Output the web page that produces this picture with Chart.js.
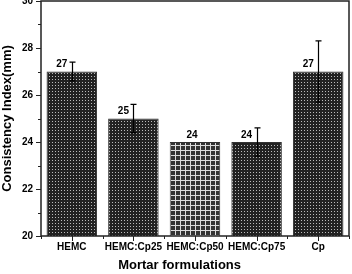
<!DOCTYPE html>
<html>
<head>
<meta charset="utf-8">
<script src="https://cdn.jsdelivr.net/npm/chart.js@4"></script>
<style>
  html,body{margin:0;padding:0;background:#fff;}
  #wrap{width:352px;height:274px;position:relative;}
</style>
</head>
<body>
<div id="wrap"><canvas id="c" width="352" height="274"></canvas></div>
<script>
// data
const categories = ['HEMC', 'HEMC:Cp25', 'HEMC:Cp50', 'HEMC:Cp75', 'Cp'];
const values = [27, 25, 24, 24, 27];
const errors = [0.4, 0.6, 0, 0.6, 1.3];
const yTicks = [20, 22, 24, 26, 28, 30];
const xTitle = 'Mortar formulations';

const FONT = 'Liberation Sans, Arial, sans-serif';

// fill patterns
function dotPattern(){
  const p = document.createElement('canvas'); p.width = 3; p.height = 3;
  const g = p.getContext('2d');
  g.fillStyle = '#222'; g.fillRect(0,0,3,3);
  g.fillStyle = '#bbb'; g.fillRect(1,1,1,1);
  return g.createPattern(p, 'repeat');
}
function gridPattern(){
  const p = document.createElement('canvas'); p.width = 5; p.height = 5;
  const g = p.getContext('2d');
  g.fillStyle = '#333'; g.fillRect(0,0,5,5);
  g.fillStyle = '#ddd'; g.fillRect(0,0,5,1); g.fillRect(0,0,1,5);
  return g.createPattern(p, 'repeat');
}
const dots = dotPattern(), grid = gridPattern();
const fills = categories.map((_,i)=> i === 2 ? grid : dots);

// error bars, value labels, frame, ticks and x title
const extras = {
  id: 'extras',
  afterDatasetsDraw(chart){
    const ctx = chart.ctx, y = chart.scales.y, x = chart.scales.x, a = chart.chartArea;
    const meta = chart.getDatasetMeta(0);
    ctx.save();
    ctx.strokeStyle = '#000'; ctx.lineWidth = 1.2;
    meta.data.forEach((bar, i)=>{
      const e = errors[i], cx = Math.round(bar.x) + 0.5;
      if (e > 0){
        const top = y.getPixelForValue(values[i] + e), bot = y.getPixelForValue(values[i] - e);
        ctx.beginPath(); ctx.moveTo(cx, top); ctx.lineTo(cx, bot);
        ctx.moveTo(cx-3, top); ctx.lineTo(cx+3, top);
        ctx.moveTo(cx-3, bot); ctx.lineTo(cx+3, bot); ctx.stroke();
      }
      ctx.fillStyle = '#000'; ctx.font = 'bold 10px ' + FONT;
      ctx.textAlign = 'center'; ctx.textBaseline = 'bottom';
      const lx = e > 0 ? bar.x - 10 : bar.x - 3;
      ctx.fillText(String(values[i]), lx, y.getPixelForValue(values[i]) - 2);
    });
    // frame
    ctx.lineWidth = 1.5; ctx.strokeStyle = '#222';
    ctx.strokeRect(a.left, a.top, a.right - a.left, a.bottom - a.top);
    // y ticks
    ctx.lineWidth = 1;
    for (let v = 20; v <= 30; v++){
      const py = Math.round(y.getPixelForValue(v)) + 0.5;
      const len = v % 2 === 0 ? 5 : 3;
      ctx.beginPath(); ctx.moveTo(a.left - len, py); ctx.lineTo(a.left, py); ctx.stroke();
    }
    // x ticks: major at centers, minor at boundaries
    categories.forEach((_, i)=>{
      const px = Math.round(x.getPixelForValue(i)) + 0.5;
      ctx.beginPath(); ctx.moveTo(px, a.bottom); ctx.lineTo(px, a.bottom + 5); ctx.stroke();
    });
    for (let i = 0; i <= categories.length; i++){
      const px = Math.round(x.getPixelForValue(i - 0.5)) + 0.5;
      ctx.beginPath(); ctx.moveTo(px, a.bottom); ctx.lineTo(px, a.bottom + 3); ctx.stroke();
    }
    // x title sits a bit left of the plot centre in the original
    ctx.fillStyle = '#000'; ctx.font = 'bold 13px ' + FONT;
    ctx.textAlign = 'center'; ctx.textBaseline = 'middle';
    ctx.fillText(xTitle, x.getPixelForValue(1.75), a.bottom + 29);
    ctx.restore();
  }
};

new Chart(document.getElementById('c'), {
  type: 'bar',
  data: {
    labels: categories,
    datasets: [{
      data: values,
      backgroundColor: fills,
      borderColor: '#333',
      borderWidth: 1,
      categoryPercentage: 0.82,
      barPercentage: 1
    }]
  },
  options: {
    responsive: false,
    animation: false,
    layout: { padding: { top: 1, right: 3, left: 0, bottom: 0 } },
    plugins: { legend: { display: false }, tooltip: { enabled: false } },
    scales: {
      x: {
        offset: true,
        grid: { display: false, drawTicks: false },
        border: { display: false },
        ticks: { color: '#000', font: { family: FONT, size: 10, weight: 'bold' }, padding: 5, maxRotation: 0, autoSkip: false },
        title: { display: false },
        afterFit(s){ s.height = 38; s.paddingLeft = 0; s.paddingRight = 0; }
      },
      y: {
        min: 20, max: 30,
        afterBuildTicks(s){ s.ticks = yTicks.map(v => ({ value: v })); },
        grid: { display: false, drawTicks: false },
        border: { display: false },
        ticks: { color: '#000', font: { family: FONT, size: 10, weight: 'bold' }, padding: 8 },
        title: { display: true, text: 'Consistency Index(mm)', color: '#000', font: { family: FONT, size: 13, weight: 'bold' }, padding: { top: 0, bottom: 0 } },
        afterFit(s){ s.width = 41; s.paddingTop = 0; s.paddingBottom = 0; }
      }
    }
  },
  plugins: [extras]
});
</script>
</body>
</html>
